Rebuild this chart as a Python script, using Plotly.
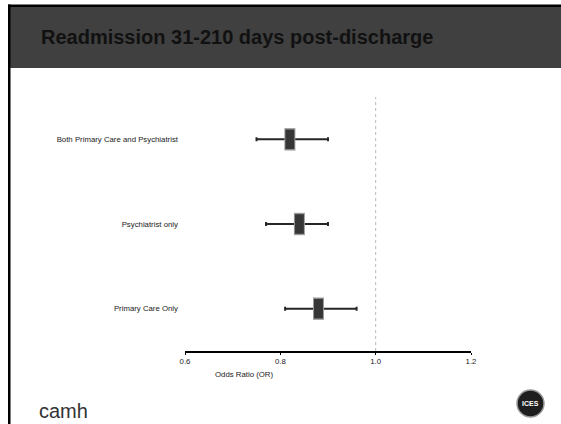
import plotly.graph_objects as go

# ---- data ----
groups = ["Both Primary Care and Psychiatrist", "Psychiatrist only", "Primary Care Only"]
odds_ratio = [0.82, 0.84, 0.88]
ci_low = [0.75, 0.77, 0.81]
ci_high = [0.90, 0.90, 0.96]
x_ticks = [0.6, 0.8, 1.0, 1.2]
x_tick_labels = ["0.6", "0.8", "1.0", "1.2"]
title_text = "Readmission 31-210 days post-discharge"
x_label = "Odds Ratio (OR)"

# ---- layout geometry (pixels) ----
W, H = 561, 424
L, R, T, B = 185, 471, 97, 351  # plot area edges


def px(X):
    return (X - L) / (R - L)


def py(Y):
    return (B - Y) / (B - T)


ypos = list(range(len(groups), 0, -1))  # 3, 2, 1 (top to bottom)
err_plus = [h - o for h, o in zip(ci_high, odds_ratio)]
err_minus = [o - l for o, l in zip(odds_ratio, ci_low)]

FONT = "Liberation Sans, Arial, sans-serif"

fig = go.Figure()

# reference line at OR = 1
fig.add_shape(type="line", xref="x", yref="paper", x0=1.0, x1=1.0, y0=0, y1=1,
              line=dict(color="#b8b8b8", width=1, dash="dot"), layer="below")

# confidence intervals
fig.add_trace(go.Scatter(
    x=odds_ratio, y=ypos, mode="markers",
    marker=dict(size=1, color="rgba(0,0,0,0)"),
    error_x=dict(type="data", symmetric=False, array=err_plus, arrayminus=err_minus,
                 color="#262626", thickness=2, width=2),
    hoverinfo="skip", showlegend=False,
))
# boxes: outline then fill
fig.add_trace(go.Scatter(
    x=odds_ratio, y=ypos, mode="markers",
    marker=dict(symbol="line-ns", size=16, line=dict(width=11, color="#9a9a9a")),
    hoverinfo="skip", showlegend=False,
))
fig.add_trace(go.Scatter(
    x=odds_ratio, y=ypos, mode="markers",
    marker=dict(symbol="line-ns", size=14, line=dict(width=9, color="#363636")),
    hoverinfo="skip", showlegend=False,
))

shapes = [
    # dark header bar
    dict(type="rect", xref="paper", yref="paper", x0=px(10), x1=px(W + 2), y0=py(68), y1=py(7),
         fillcolor="#404040", line=dict(width=0), layer="below"),
    # black frame top and left
    dict(type="rect", xref="paper", yref="paper", x0=px(8), x1=px(W + 2), y0=py(7), y1=py(4.5),
         fillcolor="#000000", line=dict(width=0), layer="below"),
    dict(type="rect", xref="paper", yref="paper", x0=px(8), x1=px(10.5), y0=py(H), y1=py(4.5),
         fillcolor="#000000", line=dict(width=0), layer="below"),
    # ICES logo circle
    dict(type="circle", xref="paper", yref="paper", x0=px(517), x1=px(544), y0=py(417), y1=py(390),
         fillcolor="#1e1e1e", line=dict(color="#9a9a9a", width=1.5)),
]
for s in shapes:
    fig.add_shape(**s)

annotations = [
    dict(text="<b>" + title_text + "</b>", xref="paper", yref="paper", x=px(39), y=py(37),
         xanchor="left", yanchor="middle", showarrow=False,
         font=dict(family=FONT, size=20, color="#111111")),
    dict(text=x_label, xref="paper", yref="paper", x=px(244), y=py(374),
         xanchor="center", yanchor="middle", showarrow=False,
         font=dict(family=FONT, size=7.8, color="#222222")),
    dict(text="camh", xref="paper", yref="paper", x=px(37), y=py(411),
         xanchor="left", yanchor="middle", showarrow=False,
         font=dict(family=FONT, size=20, color="#333333")),
    dict(text="<b>ICES</b>", xref="paper", yref="paper", x=px(530.5), y=py(403.5),
         xanchor="center", yanchor="middle", showarrow=False,
         font=dict(family=FONT, size=7, color="#ffffff")),
]

fig.update_layout(
    width=W, height=H, autosize=False,
    margin=dict(l=L, r=W - R, t=T, b=H - B, pad=0),
    paper_bgcolor="white", plot_bgcolor="white",
    font=dict(family=FONT, color="#222222"),
    annotations=annotations,
    xaxis=dict(range=[0.6, 1.2], tickvals=x_ticks, ticktext=x_tick_labels,
               showgrid=False, zeroline=False, showline=True, linecolor="#000000", linewidth=2,
               ticks="outside", ticklen=2, tickcolor="#000000", tickwidth=1,
               tickfont=dict(size=7.8, color="#222222"), fixedrange=True),
    yaxis=dict(range=[0.5, len(groups) + 0.5], tickvals=ypos, ticktext=groups,
               showgrid=False, zeroline=False, showline=False, ticks="",
               ticklabelstandoff=6,
               tickfont=dict(size=7.8, color="#222222"), fixedrange=True),
)

fig.write_html(
    "out.html",
    config={"displayModeBar": False},
    post_script=(
        "var s=document.createElement('style');"
        "s.textContent='html,body{margin:0!important;padding:0!important;overflow:hidden!important;}';"
        "document.head.appendChild(s);"
        "window.scrollTo(0,0);"
    ),
)
